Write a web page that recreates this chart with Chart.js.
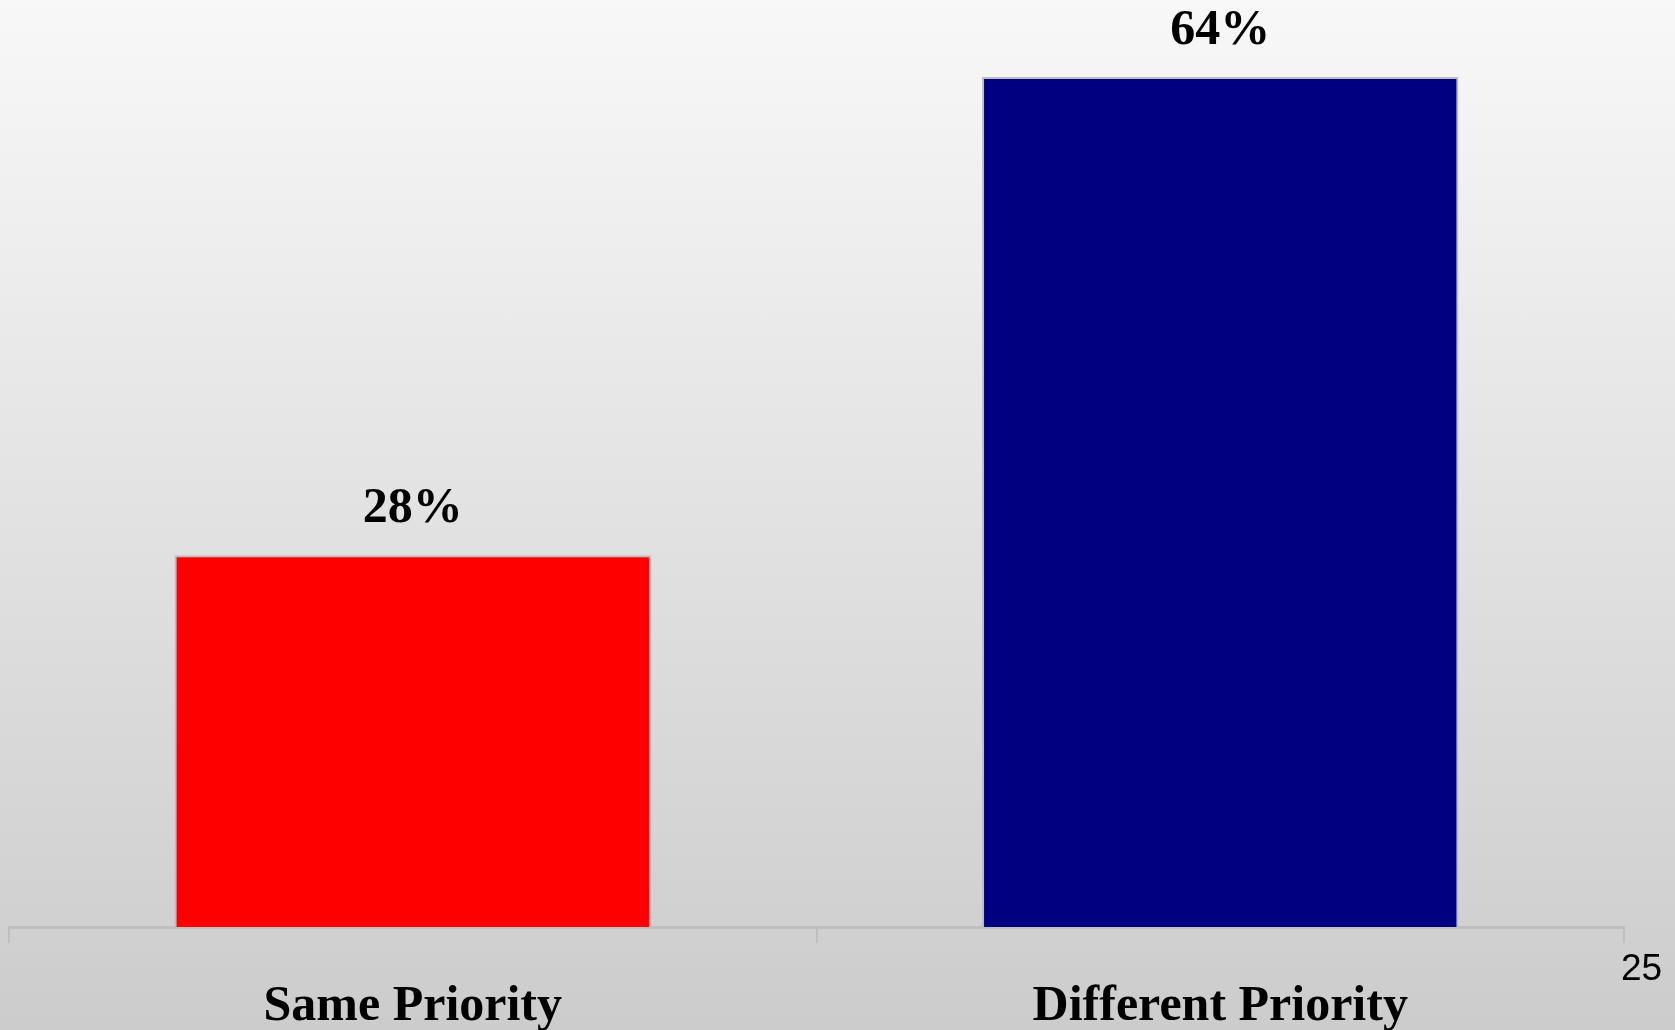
<!DOCTYPE html>
<html>
<head><meta charset="utf-8"><title>Priority</title>
    <script src="https://cdn.jsdelivr.net/npm/chart.js"></script>
    <style>
      html,body{margin:0;padding:0;overflow:hidden;}
      body{width:1675px;height:1030px;background:linear-gradient(#f8f8f8,#cccccc);}
      /* el lienzo es algo más alto que la ventana: las etiquetas quedan cortadas abajo */
      #wrap{position:relative;width:1675px;height:1071px;}
    </style>
</head>
<body>
<div id="wrap"><canvas id="barChart"></canvas></div>
<script>
    // datos
    const categories = ['Same Priority', 'Different Priority'];
    const percentValues = [28, 64];
    const barColors = ['#ff0000', '#000080'];
    const cornerLabel = '25';

    // etiquetas de porcentaje sobre las barras + el "25" suelto abajo a la derecha
    const labelsPlugin = {
      id: 'labels',
      afterDatasetsDraw(chart) {
        const ctx = chart.ctx;
        const meta = chart.getDatasetMeta(0);
        ctx.save();
        ctx.fillStyle = '#000';
        ctx.font = 'bold 50px "Liberation Serif", serif';
        ctx.textAlign = 'center';
        ctx.textBaseline = 'alphabetic';
        meta.data.forEach((bar, i) => {
          ctx.fillText(percentValues[i] + '%', bar.x, bar.y - 33);
        });
        const x = chart.scales.x;
        ctx.font = '37px "Liberation Sans", Arial, sans-serif';
        ctx.textAlign = 'left';
        ctx.fillText(cornerLabel, x.right - 3, 980);
        ctx.restore();
      }
    };

    new Chart(document.getElementById('barChart'), {
      type: 'bar',
      data: { labels: categories,
              datasets: [{ data: percentValues,
                           backgroundColor: barColors,
                           borderColor: '#bdbdbd',
                           borderWidth: 2,
                           categoryPercentage: 1,
                           barPercentage: 0.59 }] },
      options: {
        responsive: true, maintainAspectRatio: false, animation: false,
        layout: { padding: { left: 9, right: 51, top: 24, bottom: 0 } },
        plugins: { legend: { display: false }, tooltip: { enabled: false } },
        scales: {
          x: { grid: { drawOnChartArea: false, color: '#bfbfbf', lineWidth: 2, tickLength: 16, tickColor: '#bfbfbf' },
               border: { color: '#bfbfbf', width: 3 },
               ticks: { color: '#000', padding: 34, font: { family: '"Liberation Serif", serif', size: 50, weight: 'bold' } } },
          y: { display: false, min: 0, max: 68 }
        }
      },
      plugins: [labelsPlugin]
    });
</script>
</body>
</html>
